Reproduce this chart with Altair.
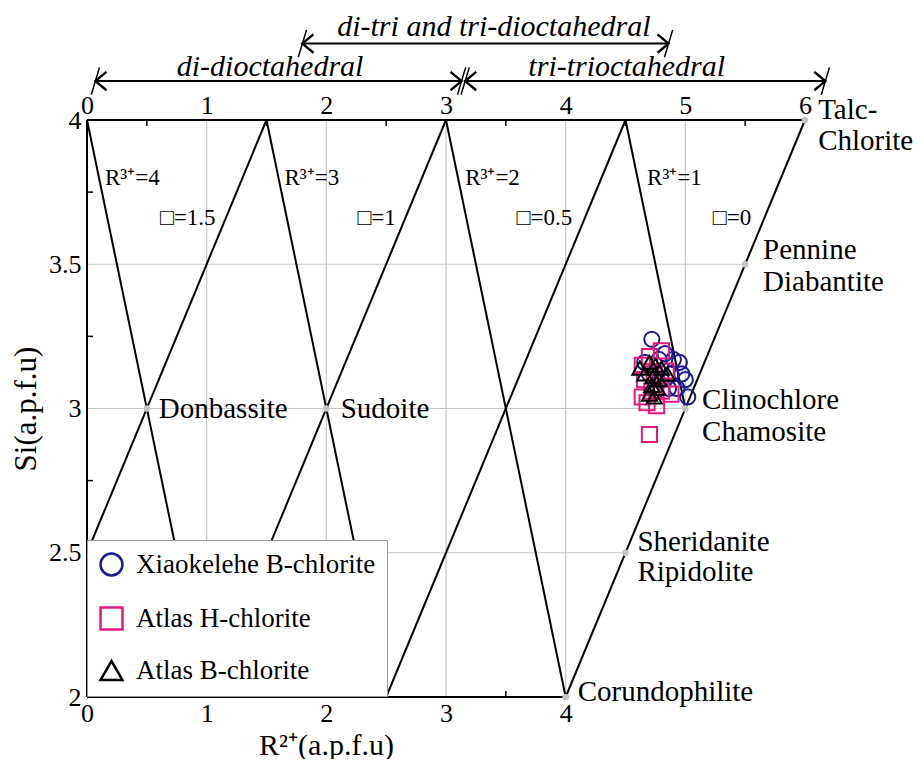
import altair as alt
import pandas as pd

FONT = "Liberation Serif"

# ---------------- data ----------------
series_names = ["Xiaokelehe B-chlorite", "Atlas H-chlorite", "Atlas B-chlorite"]
series_colors = ["#1c1c8c", "#e0197d", "#000000"]
series_shapes = ["circle", "square", "triangle-up"]

xk_x = [4.72, 4.66, 4.78, 4.83, 4.90, 4.95, 4.97, 5.00, 4.88, 4.80, 4.86, 4.93, 5.02, 4.75, 4.70]
xk_y = [3.24, 3.16, 3.17, 3.19, 3.17, 3.16, 3.12, 3.10, 3.12, 3.10, 3.07, 3.07, 3.04, 3.06, 3.12]

ah_x = [4.64, 4.70, 4.80, 4.66, 4.74, 4.84, 4.64, 4.72, 4.80, 4.88, 4.68, 4.76, 4.70]
ah_y = [3.15, 3.18, 3.20, 3.10, 3.12, 3.13, 3.04, 3.06, 3.06, 3.05, 3.02, 3.01, 2.91]

ab_x = [4.62, 4.70, 4.75, 4.80, 4.66, 4.73, 4.78, 4.85, 4.72, 4.77, 4.70, 4.74]
ab_y = [3.14, 3.16, 3.15, 3.14, 3.12, 3.11, 3.10, 3.12, 3.08, 3.07, 3.05, 3.04]

# diagram line segments (R3+ / vacancy lines, frame, right boundary)
seg_x1 = [0, 1.5, 1.5, 3, 3, 4.5, 4.5, 6, 0, 0, 0]
seg_y1 = [4, 4, 4, 4, 4, 4, 4, 4, 2, 2, 4]
seg_x2 = [1, 0, 2.5, 1, 4, 2.5, 5, 4, 0, 4, 6]
seg_y2 = [2, 2.5, 2, 2, 2, 2, 3, 2, 4, 2, 4]

# grid lines clipped to the diagram
hgrid_y = [2.5, 3.0, 3.5]
hgrid_xend = [4.5, 5.0, 5.5]
vgrid_x = [1, 2, 3, 4, 5]
vgrid_ystart = [2, 2, 2, 2, 3]

# minor ticks
bottom_minor = [0.5, 1.5, 2.5, 3.5]
top_minor = [0.5, 1.5, 2.5, 3.5, 4.5, 5.5]
left_minor = [2.25, 2.75, 3.25, 3.75]

# end-member points
node_x = [0.5, 2.0, 5.5, 5.0, 4.5, 6.0, 4.0]
node_y = [3.0, 3.0, 3.5, 3.0, 2.5, 4.0, 2.0]

# end-member names
name_text = ["Talc-", "Chlorite", "Pennine", "Diabantite", "Clinochlore", "Chamosite",
             "Sheridanite", "Ripidolite", "Corundophilite", "Donbassite", "Sudoite"]
name_x = [6.11, 6.11, 5.65, 5.65, 5.14, 5.14, 4.60, 4.60, 4.10, 0.60, 2.12]
name_y = [4.035, 3.928, 3.549, 3.438, 3.029, 2.918, 2.537, 2.433, 2.017, 3.0, 3.0]

r3_text = ["R³⁺=4", "R³⁺=3", "R³⁺=2", "R³⁺=1"]
r3_x = [0.15, 1.65, 3.16, 4.68]
r3_y = [3.80, 3.80, 3.80, 3.80]

vac_text = ["□=1.5", "□=1", "□=0.5", "□=0"]
vac_x = [0.61, 2.26, 3.59, 5.23]
vac_y = [3.66, 3.66, 3.66, 3.66]

# top range arrows
arrow_label = ["di-dioctahedral", "tri-trioctahedral", "di-tri and tri-dioctahedral"]
arrow_x1 = [0.07, 3.16, 1.80]
arrow_x2 = [3.13, 6.17, 4.86]
arrow_y = [4.135, 4.135, 4.265]
arrow_tx = [1.53, 4.51, 3.40]
arrow_ty = [4.152, 4.152, 4.291]

# ---------------- tables ----------------
pts = pd.DataFrame({
    "x": xk_x + ah_x + ab_x,
    "y": xk_y + ah_y + ab_y,
    "series": [series_names[0]] * len(xk_x) + [series_names[1]] * len(ah_x) + [series_names[2]] * len(ab_x),
})
segs = pd.DataFrame({"x1": seg_x1, "y1": seg_y1, "x2": seg_x2, "y2": seg_y2})
hgrid = pd.DataFrame({"y": hgrid_y, "x1": [0] * 3, "x2": hgrid_xend})
vgrid = pd.DataFrame({"x": vgrid_x, "y1": vgrid_ystart, "y2": [4] * 5})
nodes = pd.DataFrame({"x": node_x, "y": node_y})
names = pd.DataFrame({"t": name_text, "x": name_x, "y": name_y})
r3 = pd.DataFrame({"t": r3_text, "x": r3_x, "y": r3_y})
vac = pd.DataFrame({"t": vac_text, "x": vac_x, "y": vac_y})
arrows = pd.DataFrame({"t": arrow_label, "x1": arrow_x1, "x2": arrow_x2, "y": arrow_y,
                       "tx": arrow_tx, "ty": arrow_ty})
bt = pd.DataFrame({"x": bottom_minor})
tt = pd.DataFrame({"x": top_minor})
lt = pd.DataFrame({"y": left_minor})

xs = alt.Scale(domain=[0, 6], nice=False, zero=False)
ys = alt.Scale(domain=[2, 4], nice=False, zero=False)

W, H = 718, 577


def X(f, axis=None):
    return alt.X(f, type="quantitative", scale=xs, axis=axis)


def Y(f, axis=None):
    return alt.Y(f, type="quantitative", scale=ys, axis=axis)


bottom_axis = alt.Axis(orient="bottom", values=[0, 1, 2, 3, 4], domain=False, ticks=False, grid=False,
                       labelFont=FONT, labelFontSize=26, labelColor="black", labelPadding=3,
                       labelFlush=False, format="~g",
                       title="R²⁺(a.p.f.u)", titleFont=FONT, titleFontSize=30, titleFontWeight="normal",
                       titleColor="black", titleX=239, titleY=57, titleBaseline="alphabetic")
top_axis = alt.Axis(orient="top", values=[0, 1, 2, 3, 4, 5, 6], domain=False, ticks=False, grid=False,
                    labelFont=FONT, labelFontSize=26, labelColor="black", labelPadding=2,
                    labelFlush=False, format="~g", title=None)
left_axis = alt.Axis(orient="left", values=[2, 2.5, 3, 3.5, 4], domain=False, ticks=False, grid=False,
                     labelFont=FONT, labelFontSize=26, labelColor="black", labelPadding=6,
                     labelFlush=False, format="~g",
                     title="Si(a.p.f.u)", titleFont=FONT, titleFontSize=31, titleFontWeight="normal",
                     titleColor="black", titlePadding=6)

grid_h = alt.Chart(hgrid).mark_rule(color="#c8c8c8", strokeWidth=1.2).encode(
    x=X("x1", bottom_axis), x2="x2", y=Y("y", left_axis))
grid_v = alt.Chart(vgrid).mark_rule(color="#c8c8c8", strokeWidth=1.2).encode(
    x=X("x", top_axis), y=Y("y1"), y2="y2")
lines = alt.Chart(segs).mark_rule(color="black", strokeWidth=2).encode(
    x=X("x1"), y=Y("y1"), x2="x2", y2="y2")
ticks_b = alt.Chart(bt).mark_rule(color="black", strokeWidth=1.5).encode(
    x=X("x"), y=alt.value(H), y2=alt.value(H - 6))
ticks_t = alt.Chart(tt).mark_rule(color="black", strokeWidth=1.5).encode(
    x=X("x"), y=alt.value(0), y2=alt.value(6))
ticks_l = alt.Chart(lt).mark_rule(color="black", strokeWidth=1.5).encode(
    y=Y("y"), x=alt.value(0), x2=alt.value(6))
node_pts = alt.Chart(nodes).mark_circle(color="#c4c4c4", size=45, opacity=1).encode(x=X("x"), y=Y("y"))

name_txt = alt.Chart(names).mark_text(font=FONT, fontSize=29, align="left", baseline="middle",
                                      color="black").encode(x=X("x"), y=Y("y"), text="t")
r3_txt = alt.Chart(r3).mark_text(font=FONT, fontSize=23, align="left", baseline="middle",
                                 color="black").encode(x=X("x"), y=Y("y"), text="t")
vac_txt = alt.Chart(vac).mark_text(font=FONT, fontSize=23, align="left", baseline="middle",
                                   color="black").encode(x=X("x"), y=Y("y"), text="t")

arr_line = alt.Chart(arrows).mark_rule(color="black", strokeWidth=2).encode(
    x=X("x1"), x2="x2", y=Y("y"))
arr_left = alt.Chart(arrows).mark_point(shape="M1.2,-1L0,0L1.2,1", size=340, filled=False,
                                        color="black", strokeWidth=2.4, opacity=1).encode(x=X("x1"), y=Y("y"))
arr_right = alt.Chart(arrows).mark_point(shape="M-1.2,-1L0,0L-1.2,1", size=340, filled=False,
                                         color="black", strokeWidth=2.4, opacity=1).encode(x=X("x2"), y=Y("y"))
slash_l = alt.Chart(arrows).mark_point(shape="M-0.3,1L0.3,-1", size=750, filled=False,
                                       color="black", strokeWidth=1.5, opacity=1).encode(x=X("x1"), y=Y("y"))
slash_r = alt.Chart(arrows).mark_point(shape="M-0.3,1L0.3,-1", size=750, filled=False,
                                       color="black", strokeWidth=1.5, opacity=1).encode(x=X("x2"), y=Y("y"))
arr_txt = alt.Chart(arrows).mark_text(font=FONT, fontSize=30, fontStyle="italic", align="center",
                                      baseline="alphabetic", color="black").encode(
    x=X("tx"), y=Y("ty"), text="t")

leg = alt.Legend(title=None, orient="none", legendX=0, legendY=420, labelFont=FONT, labelFontSize=27,
                 labelColor="black", labelLimit=400, symbolSize=480, symbolStrokeWidth=2.5,
                 rowPadding=21, padding=11, labelOffset=11, fillColor="white",
                 strokeColor="#999999", cornerRadius=0)
scatter = alt.Chart(pts).mark_point(filled=False, strokeWidth=2, size=230, opacity=1).encode(
    x=X("x"), y=Y("y"),
    color=alt.Color("series:N", scale=alt.Scale(domain=series_names, range=series_colors), legend=leg),
    shape=alt.Shape("series:N", scale=alt.Scale(domain=series_names, range=series_shapes), legend=leg),
)

chart = alt.layer(
    grid_h, grid_v, lines, ticks_b, ticks_t, ticks_l, node_pts,
    name_txt, r3_txt, vac_txt,
    arr_line, arr_left, arr_right, slash_l, slash_r, arr_txt,
    scatter,
).resolve_axis(x="independent", y="independent").properties(
    width=W, height=H,
    background="white",
    autosize=alt.AutoSizeParams(type="none"),
    padding={"left": 79, "top": 112, "right": 111, "bottom": 62},
).configure_view(stroke=None)

chart.save("out.html", embed_options={"renderer": "svg", "actions": False})
